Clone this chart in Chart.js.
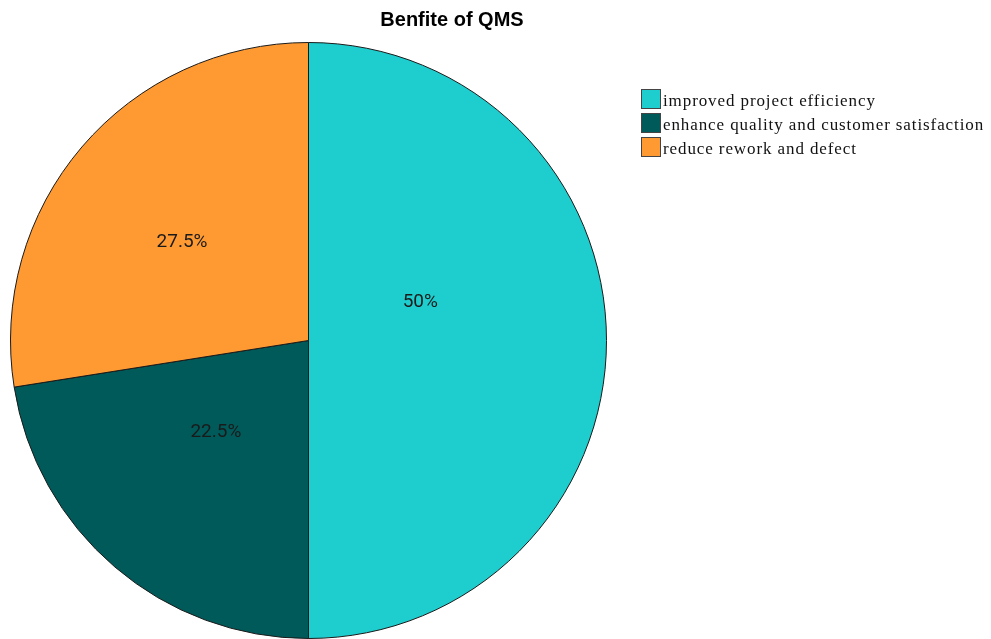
<!DOCTYPE html>
<html>
<head>
<meta charset="utf-8">
<script src="https://cdn.jsdelivr.net/npm/chart.js@4/dist/chart.umd.min.js"></script>
<style>
html,body{margin:0;padding:0;background:#fff;}
#wrap{position:relative;width:991px;height:639px;}
</style>
</head>
<body>
<div id="wrap"><canvas id="c" width="991" height="639"></canvas></div>
<script>
const chartTitle = "Benfite of QMS";
const categories = ["improved project efficiency", "enhance quality and customer satisfaction", "reduce rework and defect"];
const values = [50, 22.5, 27.5];
const valueLabels = ["50%", "22.5%", "27.5%"];
const colors = ["#1ECECE", "#005A5A", "#FF9A33"];

// label placement relative to each slice: [fraction of radius, angle shift in degrees]
const labelPlace = [[0.396, -18.7], [0.438, 4.7], [0.537, -2.7]];

const overlay = {
  id: 'overlay',
  afterDraw(chart) {
    const ctx = chart.ctx;
    const meta = chart.getDatasetMeta(0);
    ctx.save();
    // slice labels
    ctx.font = '19px Roboto, "Liberation Sans", Arial, sans-serif';
    ctx.fillStyle = '#1a1a1a';
    ctx.textAlign = 'center';
    ctx.textBaseline = 'middle';
    meta.data.forEach((arc, i) => {
      const p = arc.getProps(['x','y','startAngle','endAngle','outerRadius'], true);
      const mid = (p.startAngle + p.endAngle) / 2 + labelPlace[i][1] * Math.PI / 180;
      const r = p.outerRadius * labelPlace[i][0];
      ctx.fillText(valueLabels[i], p.x + Math.cos(mid) * r, p.y + Math.sin(mid) * r);
    });
    // title
    ctx.font = 'bold 20px "Liberation Sans", Arial, sans-serif';
    ctx.fillStyle = '#000';
    ctx.fillText(chartTitle, 452, 20);
    // legend
    ctx.textAlign = 'left';
    ctx.font = '17px "Liberation Serif", "Times New Roman", serif';
    if ('letterSpacing' in ctx) ctx.letterSpacing = '0.9px';
    categories.forEach((c, i) => {
      const y = 89 + i * 24;
      ctx.fillStyle = colors[i];
      ctx.fillRect(641, y, 20, 20);
      ctx.strokeStyle = '#444';
      ctx.lineWidth = 1;
      ctx.strokeRect(641.5, y + 0.5, 19, 19);
      ctx.fillStyle = '#111';
      ctx.fillText(c, 663, y + 12.5);
    });
    ctx.restore();
  }
};

new Chart(document.getElementById('c'), {
  type: 'pie',
  data: {
    labels: categories,
    datasets: [{
      data: values,
      backgroundColor: colors,
      borderColor: '#1a1a1a',
      borderWidth: 1
    }]
  },
  options: {
    responsive: false,
    animation: false,
    layout: { padding: { left: 10, top: 42, right: 384, bottom: 0 } },
    plugins: {
      legend: { display: false },
      title: { display: false },
      tooltip: { enabled: false }
    }
  },
  plugins: [overlay]
});
</script>
</body>
</html>
